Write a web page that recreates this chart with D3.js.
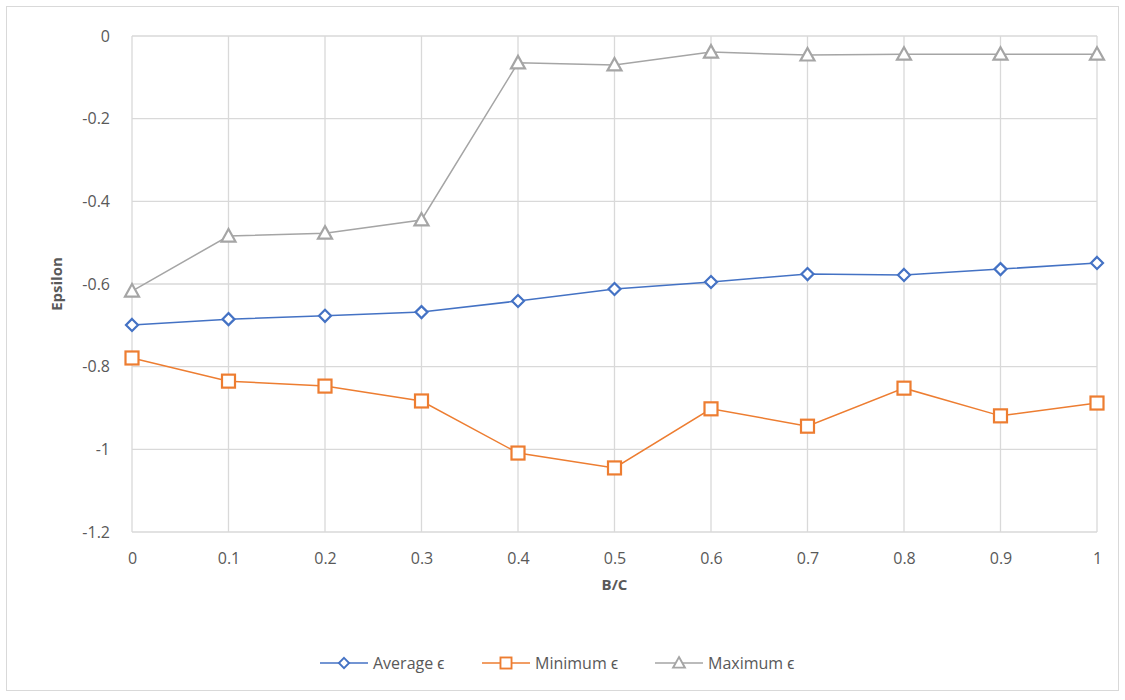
<!DOCTYPE html>
<html><head><meta charset="utf-8">
<script src="https://cdn.jsdelivr.net/npm/d3@7"></script>
<style>body{margin:0;background:#fff;font-family:"Open Sans","Liberation Sans",sans-serif;}</style>
</head><body>
<svg id="c" width="1125" height="700"></svg>
<script>
const categories = [0,0.1,0.2,0.3,0.4,0.5,0.6,0.7,0.8,0.9,1];
const xTickLabels = ["0","0.1","0.2","0.3","0.4","0.5","0.6","0.7","0.8","0.9","1"];
const yTicks = [0,-0.2,-0.4,-0.6,-0.8,-1,-1.2];
const yTickLabels = ["0","-0.2","-0.4","-0.6","-0.8","-1","-1.2"];
const averageEps = [-0.699,-0.685,-0.677,-0.668,-0.641,-0.612,-0.595,-0.576,-0.578,-0.564,-0.549];
const minimumEps = [-0.779,-0.835,-0.847,-0.883,-1.009,-1.045,-0.902,-0.944,-0.852,-0.919,-0.888];
const maximumEps = [-0.617,-0.484,-0.477,-0.445,-0.065,-0.070,-0.039,-0.046,-0.044,-0.044,-0.044];
const seriesNames = ["Average \u03f5","Minimum \u03f5","Maximum \u03f5"];
const colors = ["#4472C4","#ED7D31","#A5A5A5"];
const shapes = ["diamond","square","triangle"];

const svg = d3.select("#c");
svg.append("rect").attr("x",6.5).attr("y",6.5).attr("width",1112).attr("height",684)
  .attr("fill","#fff").attr("stroke","#d9d9d9");

const L=132,R=1097,T=36,B=532;
const x = d3.scaleLinear().domain([0,1]).range([L,R]);
const y = d3.scaleLinear().domain([-1.2,0]).range([B,T]);
const txt="#595959";

const g = svg.append("g");
g.selectAll(".hg").data(yTicks).join("line")
  .attr("x1",L).attr("x2",R).attr("y1",d=>y(d)).attr("y2",d=>y(d))
  .attr("stroke","#d9d9d9").attr("stroke-width",1.3);
g.selectAll(".vg").data(categories).join("line")
  .attr("y1",T).attr("y2",B).attr("x1",d=>x(d)).attr("x2",d=>x(d))
  .attr("stroke","#d9d9d9").attr("stroke-width",1.3);

const xAxis = d3.axisBottom(x).tickValues(categories).tickFormat((d,i)=>xTickLabels[i]).tickSize(0).tickPadding(21);
const xa = svg.append("g").attr("transform",`translate(0,${B})`).call(xAxis);
xa.select(".domain").remove();
xa.selectAll("text").attr("fill",txt).style("font-size","16px").style("font-family","Open Sans, Liberation Sans, sans-serif");
const yAxis = d3.axisLeft(y).tickValues(yTicks).tickFormat((d,i)=>yTickLabels[i]).tickSize(0).tickPadding(22);
const ya = svg.append("g").attr("transform",`translate(${L},0)`).call(yAxis);
ya.select(".domain").remove();
ya.selectAll("text").attr("fill",txt).style("font-size","16px").style("font-family","Open Sans, Liberation Sans, sans-serif");

svg.append("text").attr("x",(L+R)/2).attr("y",590).attr("text-anchor","middle")
  .attr("fill",txt).attr("font-weight","bold").attr("font-size",15).text("B/C");
svg.append("text").attr("transform",`translate(62,${(T+B)/2}) rotate(-90)`).attr("text-anchor","middle")
  .attr("fill",txt).attr("font-weight","bold").attr("font-size",15).text("Epsilon");

function marker(sel,shape,color){
  if(shape==="diamond") sel.append("path").attr("d","M0,-6L6,0L0,6L-6,0Z");
  else if(shape==="square") sel.append("rect").attr("x",-6.5).attr("y",-6.5).attr("width",13).attr("height",13);
  else sel.append("path").attr("d","M0,-7L7,5.5L-7,5.5Z");
  sel.selectAll("path,rect").attr("fill","#fff").attr("stroke",color).attr("stroke-width",2.2);
}

const allSeries=[averageEps,minimumEps,maximumEps];
const line=d3.line().x((d,i)=>x(categories[i])).y(d=>y(d));
[2,1,0].forEach(si=>{
  const vals=allSeries[si];
  g.append("path").datum(vals).attr("d",line).attr("fill","none").attr("stroke",colors[si]).attr("stroke-width",1.5);
  vals.forEach((v,i)=>{
    const m=g.append("g").attr("transform",`translate(${x(categories[i])},${y(v)})`);
    marker(m,shapes[si],colors[si]);
  });
});

const legX=[320,482,655];
seriesNames.forEach((n,i)=>{
  const lg=svg.append("g").attr("transform",`translate(${legX[i]},663)`);
  lg.append("line").attr("x1",0).attr("x2",48).attr("stroke",colors[i]).attr("stroke-width",1.5);
  const m=lg.append("g").attr("transform","translate(24,0) scale(0.85)");
  marker(m,shapes[i],colors[i]);
  lg.append("text").attr("x",53).attr("y",6).attr("fill",txt).attr("font-size",16).text(n);
});
</script>
</body></html>
